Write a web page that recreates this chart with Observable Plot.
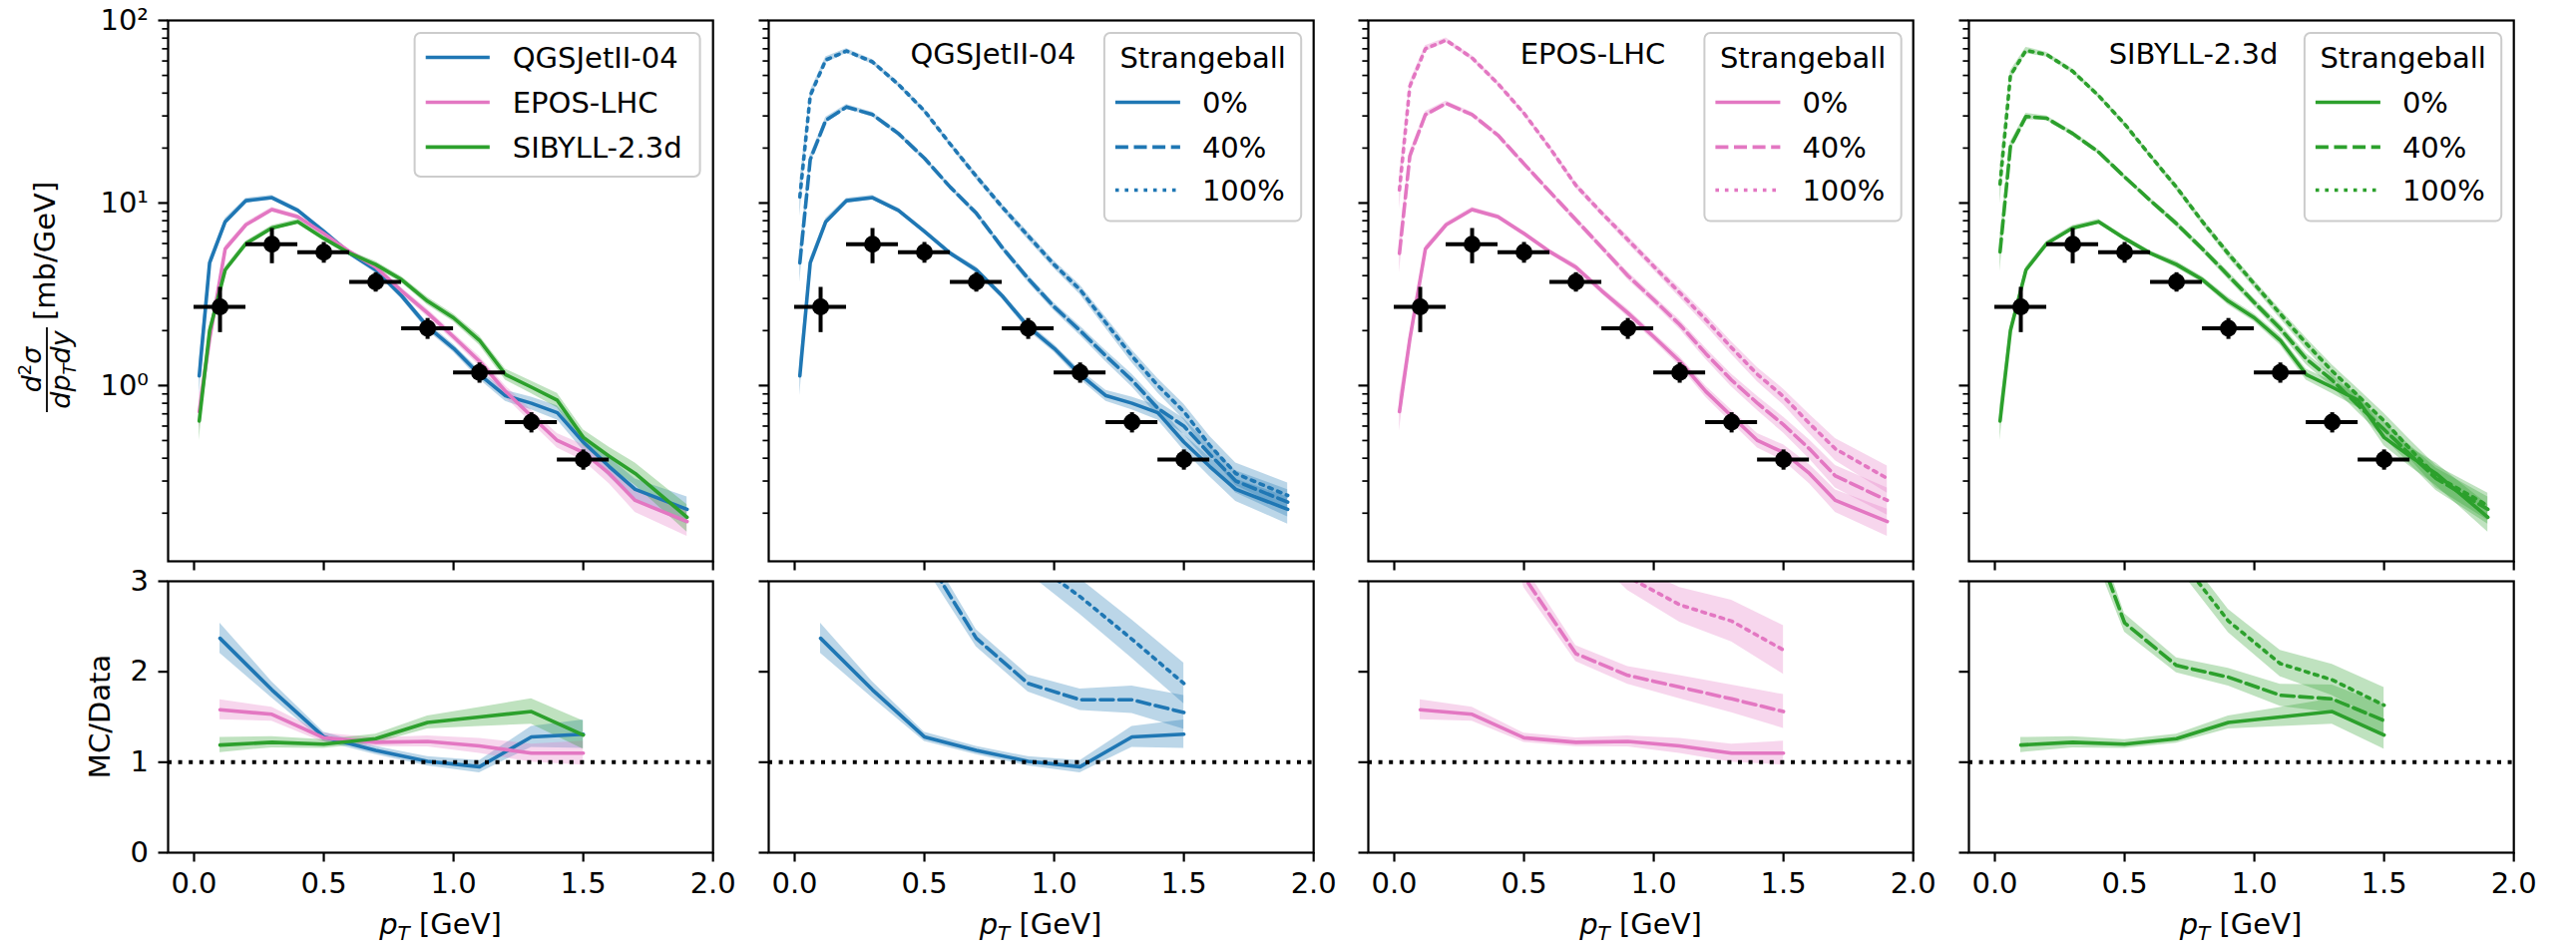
<!DOCTYPE html>
<html><head><meta charset="utf-8">
<script src="https://cdn.jsdelivr.net/npm/d3@7"></script>
<script src="https://cdn.jsdelivr.net/npm/@observablehq/plot@0.6"></script>
<style>
html,body{margin:0;padding:0;background:#fff;}
#fig{position:relative;width:2582px;height:953px;overflow:hidden;font-family:"DejaVu Sans";}
#fig > svg{position:absolute;overflow:visible;}
</style></head><body><div id="fig"></div>
<script>
// ---------------- data ----------------
const pT = [0.02, 0.06, 0.12, 0.2, 0.3, 0.4, 0.5, 0.6, 0.7, 0.8, 0.9, 1.0, 1.1, 1.2, 1.3, 1.4, 1.5, 1.6, 1.7, 1.9];
const relErrMC = [0.22, 0.06, 0.04, 0.03, 0.03, 0.03, 0.03, 0.03, 0.04, 0.04, 0.05, 0.05, 0.06, 0.07, 0.08, 0.09, 0.10, 0.12, 0.14, 0.17];

const qgs0   = [1.13, 4.7, 7.9, 10.3, 10.7, 9.1, 7.0, 5.3, 4.3, 3.1, 2.1, 1.6, 1.15, 0.88, 0.8, 0.71, 0.49, 0.36, 0.27, 0.21];
const qgs40  = [4.7, 17.3, 28.4, 33.6, 30.5, 24, 17.6, 12.2, 8.8, 5.7, 3.85, 2.7, 2.0, 1.45, 1.07, 0.75, 0.6, 0.42, 0.3, 0.23];
const qgs100 = [10.8, 38.7, 60.8, 68, 59.3, 44.6, 32, 21, 14, 9.5, 6.6, 4.6, 3.35, 2.2, 1.45, 1.0, 0.72, 0.47, 0.33, 0.25];

const epos0   = [0.72, 1.8, 5.6, 7.6, 9.2, 8.4, 6.8, 5.4, 4.45, 3.3, 2.5, 1.85, 1.36, 0.93, 0.68, 0.5, 0.43, 0.33, 0.235, 0.18];
const epos40  = [5.3, 18.1, 30.5, 35.1, 30.5, 23.5, 16.4, 11.5, 8.1, 5.7, 4.0, 2.95, 2.16, 1.5, 1.07, 0.8, 0.61, 0.45, 0.32, 0.235];
const epos100 = [11.8, 43.6, 70, 78, 62.3, 45, 31, 20, 12.5, 8.8, 6.3, 4.5, 3.23, 2.3, 1.61, 1.15, 0.87, 0.62, 0.45, 0.31];

const sib0   = [0.64, 2.0, 4.3, 6.0, 7.3, 7.9, 6.4, 5.3, 4.6, 3.8, 2.9, 2.35, 1.77, 1.15, 0.98, 0.83, 0.52, 0.41, 0.33, 0.19];
const sib40  = [5.4, 20.4, 29.8, 29.1, 24, 19, 13.9, 10.3, 7.7, 5.6, 4.0, 2.85, 2.05, 1.4, 1.07, 0.78, 0.575, 0.42, 0.31, 0.21];
const sib100 = [12.7, 50, 68.5, 65, 52.7, 38.7, 27.1, 18.1, 12.2, 7.9, 5.27, 3.6, 2.47, 1.7, 1.2, 0.88, 0.64, 0.45, 0.32, 0.22];

const dataX    = [0.1, 0.3, 0.5, 0.7, 0.9, 1.1, 1.3, 1.5];
const dataY    = [2.7, 5.95, 5.38, 3.7, 2.06, 1.18, 0.63, 0.394];
const dataYErr = [0.75, 1.3, 0.7, 0.45, 0.27, 0.15, 0.08, 0.05];
const dataXErr = [0.1, 0.1, 0.1, 0.1, 0.1, 0.1, 0.1, 0.1];

const ratioQGS0    = [2.37, 1.8, 1.28, 1.13, 1.01, 0.95, 1.28, 1.31];
const ratioQGS40   = [8.9, 5.1, 3.3, 2.37, 1.87, 1.69, 1.69, 1.55];
const ratioQGS100  = [19, 10, 6, 4.2, 3.25, 2.83, 2.36, 1.87];
const ratioEPOS0   = [1.58, 1.53, 1.27, 1.22, 1.23, 1.18, 1.10, 1.10];
const ratioEPOS40  = [9, 5.1, 3.05, 2.2, 1.96, 1.83, 1.70, 1.56];
const ratioEPOS100 = [20, 10.5, 5.8, 3.6, 3.05, 2.74, 2.56, 2.24];
const ratioSIB0    = [1.19, 1.22, 1.20, 1.26, 1.44, 1.50, 1.56, 1.30];
const ratioSIB40   = [7.0, 4.1, 2.54, 2.07, 1.94, 1.74, 1.70, 1.46];
const ratioSIB100  = [15, 8.8, 5.0, 3.3, 2.56, 2.09, 1.91, 1.63];
const ratioRelErr  = [0.07, 0.05, 0.04, 0.04, 0.05, 0.07, 0.09, 0.12];

const models = ["QGSJetII-04", "EPOS-LHC", "SIBYLL-2.3d"];
const modelColors = ["#1f77b4", "#e377c2", "#2ca02c"];
const levels = ["0%", "40%", "100%"];
const legendTitle = "Strangeball";
const xTicks = [0, 0.5, 1.0, 1.5, 2.0];
const yMajor = [1, 10, 100];
const yMajorLabels = ["10\u2070", "10\u00b9", "10\u00b2"];
const yMinor = [0.2,0.3,0.4,0.5,0.6,0.7,0.8,0.9,2,3,4,5,6,7,8,9,20,30,40,50,60,70,80,90];
const ratioTicks = [0, 1, 2, 3];
const xLabelMain = " [GeV]";
const yLabelTopUnit = " [mb/GeV]";
const yLabelBottom = "MC/Data";

const spectra = [[qgs0, qgs40, qgs100], [epos0, epos40, epos100], [sib0, sib40, sib100]];
const ratios = [[ratioQGS0, ratioQGS40, ratioQGS100], [ratioEPOS0, ratioEPOS40, ratioEPOS100], [ratioSIB0, ratioSIB40, ratioSIB100]];

// ---------------- style / layout ----------------
const FONT = 29;
const LW = 3.6;
const dashes = [null, "13 5.6", "3.6 5.9"];
const T0 = 194.4, PERIOD = 601.5, PXG = 260.1;
const XDOM = [-0.1, 2.0];
const FW = (XDOM[1] - XDOM[0]) * PXG;
const ML = 168, MR = 20;
const TOP_FRAME = 20, TOP_H = 542, BOT_FRAME = 582, BOT_H = 272;
const fig = document.getElementById("fig");
const baseStyle = {background: "transparent", overflow: "visible", fontFamily: "DejaVu Sans", fontSize: FONT + "px", color: "black"};

function mcRows(vals) { return pT.map((x, i) => ({x, y: vals[i], lo: vals[i] * (1 - relErrMC[i]), hi: vals[i] * (1 + relErrMC[i])})); }
function ratioRows(vals) { return dataX.map((x, i) => ({x, y: vals[i], lo: vals[i] * (1 - ratioRelErr[i]), hi: vals[i] * (1 + ratioRelErr[i])})); }
function curveMarks(curves) {
  return [
    ...curves.map(c => Plot.areaY(c.rows, {x: "x", y1: "lo", y2: "hi", fill: c.color, fillOpacity: 0.3, clip: true})),
    ...curves.map(c => Plot.lineY(c.rows, {x: "x", y: "y", stroke: c.color, strokeWidth: LW, strokeDasharray: c.dash, clip: true}))
  ];
}
const dataRows = dataX.map((x, i) => ({x, y: dataY[i], xe: dataXErr[i], ye: dataYErr[i]}));

for (let p = 0; p < 4; p++) {
  const t0 = T0 + PERIOD * p;
  const frameLeft = t0 + XDOM[0] * PXG;
  let topCurves, botCurves;
  if (p === 0) {
    topCurves = models.map((m, k) => ({rows: mcRows(spectra[k][0]), color: modelColors[k], dash: null}));
    botCurves = models.map((m, k) => ({rows: ratioRows(ratios[k][0]), color: modelColors[k], dash: null}));
  } else {
    const k = p - 1;
    topCurves = levels.map((l, j) => ({rows: mcRows(spectra[k][j]), color: modelColors[k], dash: dashes[j]}));
    botCurves = levels.map((l, j) => ({rows: ratioRows(ratios[k][j]), color: modelColors[k], dash: dashes[j]}));
  }
  const topMarks = [
    ...curveMarks(topCurves),
    Plot.ruleY(dataRows, {y: "y", x1: d => d.x - d.xe, x2: d => d.x + d.xe, stroke: "black", strokeWidth: 4}),
    Plot.ruleX(dataRows, {x: "x", y1: d => d.y - d.ye, y2: d => d.y + d.ye, stroke: "black", strokeWidth: 4}),
    Plot.dot(dataRows, {x: "x", y: "y", r: 8.5, fill: "black"}),
    Plot.axisX(xTicks, {tickSize: 9.5, tickFormat: () => "", strokeWidth: 2.2, label: null}),
    Plot.axisY(yMajor, {tickSize: 9.5, tickPadding: 10, tickFormat: (d) => p === 0 ? yMajorLabels[yMajor.indexOf(d)] : "", fontSize: FONT, strokeWidth: 2.2, label: null}),
    Plot.axisY(yMinor, {tickSize: 5.6, tickFormat: () => "", strokeWidth: 1.7, label: null}),
    Plot.frame({stroke: "black", strokeWidth: 2.2})
  ];
  if (p > 0) {
    topMarks.push(Plot.text([models[p - 1]], {x: () => 0.765, text: d => d, frameAnchor: "top", lineAnchor: "middle", dy: 34, fontSize: FONT, fill: "black"}));
  }
  const top = Plot.plot({
    width: ML + FW + MR, height: TOP_FRAME + TOP_H + 20,
    marginLeft: ML, marginRight: MR, marginTop: TOP_FRAME, marginBottom: 20,
    x: {domain: XDOM, label: null},
    y: {type: "log", domain: [0.109, 100], label: null},
    style: baseStyle,
    marks: topMarks
  });
  top.style.left = (frameLeft - ML) + "px";
  top.style.top = "0px";
  fig.appendChild(top);

  const bot = Plot.plot({
    width: ML + FW + MR, height: 20 + BOT_H + 70,
    marginLeft: ML, marginRight: MR, marginTop: 20, marginBottom: 70,
    x: {domain: XDOM, label: null},
    y: {domain: [0, 3], label: null},
    style: baseStyle,
    marks: [
      ...curveMarks(botCurves),
      Plot.ruleY([1], {stroke: "black", strokeWidth: 4, strokeDasharray: "4 6.6"}),
      Plot.axisX(xTicks, {tickSize: 9.5, tickPadding: 10, tickFormat: d3.format(".1f"), fontSize: FONT, strokeWidth: 2.2, label: null}),
      Plot.axisY(ratioTicks, {tickSize: 9.5, tickPadding: 10, tickFormat: d => p === 0 ? String(d) : "", fontSize: FONT, strokeWidth: 2.2, label: null}),
      Plot.frame({stroke: "black", strokeWidth: 2.2})
    ]
  });
  bot.style.left = (frameLeft - ML) + "px";
  bot.style.top = (BOT_FRAME - 20) + "px";
  fig.appendChild(bot);
}

// ---------------- overlay: labels & legends ----------------
const ov = d3.create("svg").attr("width", 2582).attr("height", 953)
  .style("left", "0px").style("top", "0px").style("pointer-events", "none")
  .attr("font-family", "DejaVu Sans").attr("font-size", FONT).attr("fill", "black");

// top y label: d^2 sigma / (dp_T dy) [mb/GeV]
const gy = ov.append("g").attr("transform", "translate(55,291) rotate(-90)");
gy.append("line").attr("x1", -122).attr("x2", -37).attr("y1", -8).attr("y2", -8).attr("stroke", "black").attr("stroke-width", 1.8);
const num = gy.append("text").attr("x", -79.5).attr("y", -14).attr("text-anchor", "middle").attr("font-size", 27);
num.append("tspan").attr("font-style", "italic").text("d");
num.append("tspan").attr("font-size", 18).attr("dy", -10).text("2");
num.append("tspan").attr("font-style", "italic").attr("dy", 10).text("\u03c3");
const den = gy.append("text").attr("x", -79.5).attr("y", 15).attr("text-anchor", "middle").attr("font-size", 27);
den.append("tspan").attr("font-style", "italic").text("dp");
den.append("tspan").attr("font-style", "italic").attr("font-size", 18).attr("dy", 6).text("T");
den.append("tspan").attr("font-style", "italic").attr("dy", -6).text("dy");
gy.append("text").attr("x", -30).attr("y", 0).text(yLabelTopUnit);

// bottom y label
ov.append("text").attr("transform", "translate(109.5,718) rotate(-90)").attr("text-anchor", "middle").text(yLabelBottom);

// x labels
for (let p = 0; p < 4; p++) {
  const cx = T0 + PERIOD * p + (XDOM[0] + XDOM[1]) / 2 * PXG;
  const t = ov.append("text").attr("x", cx).attr("y", 936).attr("text-anchor", "middle");
  t.append("tspan").attr("font-style", "italic").text("p");
  t.append("tspan").attr("font-style", "italic").attr("font-size", 20).attr("dy", 6).text("T");
  t.append("tspan").attr("dy", -6).text(xLabelMain);
}

function legendLine(g, x1, x2, y, color, dash) {
  const l = g.append("line").attr("x1", x1).attr("x2", x2).attr("y1", y).attr("y2", y)
    .attr("stroke", color).attr("stroke-width", LW);
  if (dash) l.attr("stroke-dasharray", dash);
}
// legend panel 1
{
  const o = T0;
  const g = ov.append("g");
  g.append("rect").attr("x", o + 221.2).attr("y", 33).attr("width", 286).attr("height", 144).attr("rx", 6)
    .attr("fill", "white").attr("fill-opacity", 0.8).attr("stroke", "#cccccc").attr("stroke-width", 2);
  const rows = [57.5, 102.5, 147.4];
  models.forEach((m, k) => {
    legendLine(g, o + 232.3, o + 296.4, rows[k], modelColors[k], null);
    g.append("text").attr("x", o + 319.4).attr("y", rows[k]).attr("dy", "0.36em").text(m);
  });
}
// legends panels 2-4
for (let p = 1; p < 4; p++) {
  const o = T0 + PERIOD * p;
  const k = p - 1;
  const g = ov.append("g");
  g.append("rect").attr("x", o + 311).attr("y", 33).attr("width", 197.3).attr("height", 188.6).attr("rx", 6)
    .attr("fill", "white").attr("fill-opacity", 0.8).attr("stroke", "#cccccc").attr("stroke-width", 2);
  g.append("text").attr("x", o + 409.7).attr("y", 57.5).attr("dy", "0.36em").attr("text-anchor", "middle").text(legendTitle);
  const rows = [102.5, 147.4, 190.5];
  levels.forEach((l, j) => {
    legendLine(g, o + 322, o + 387, rows[j], modelColors[k], dashes[j]);
    g.append("text").attr("x", o + 409).attr("y", rows[j]).attr("dy", "0.36em").text(l);
  });
}
fig.appendChild(ov.node());
</script></body></html>
